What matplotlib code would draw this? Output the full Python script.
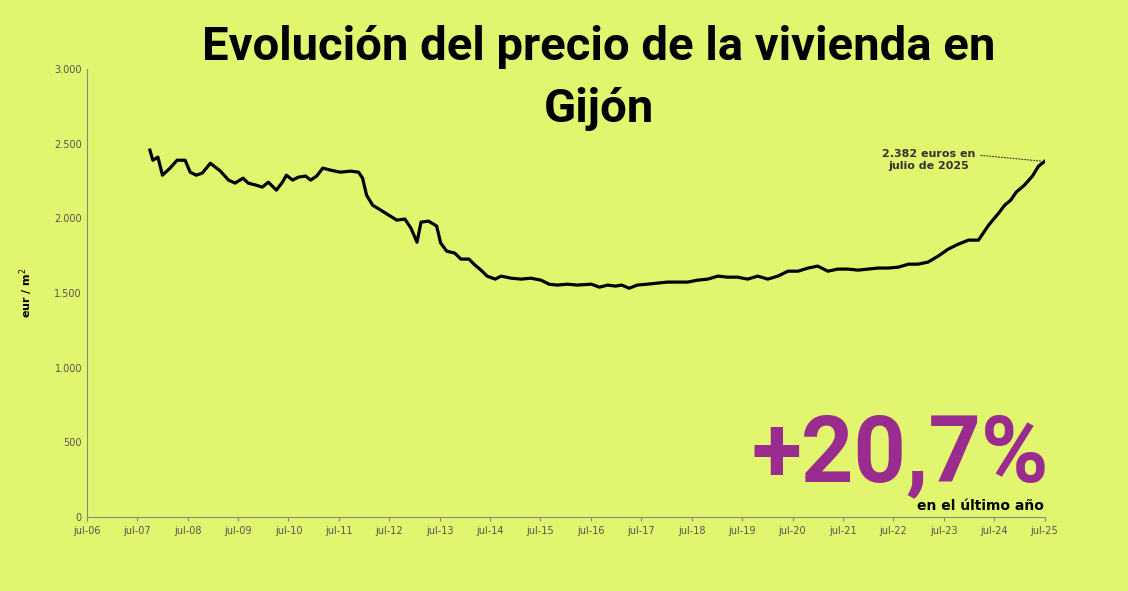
import matplotlib
matplotlib.use("Agg")
import matplotlib.pyplot as plt
from matplotlib.ticker import FuncFormatter

years = [2007.75,2007.81,2007.91,2008.0,2008.15,2008.29,2008.45,2008.55,2008.67,2008.79,2008.95,
 2009.15,2009.31,2009.44,2009.60,2009.70,2009.86,2009.98,2010.10,2010.26,2010.38,2010.46,2010.58,
 2010.70,2010.84,2010.94,2011.06,2011.18,2011.33,2011.53,2011.73,2011.89,2011.97,2012.05,2012.17,
 2012.33,2012.49,2012.65,2012.81,2012.93,2013.05,2013.13,2013.28,2013.44,2013.52,2013.64,2013.80,
 2013.92,2014.08,2014.20,2014.32,2014.44,2014.60,2014.72,2014.92,2015.12,2015.31,2015.51,2015.67,
 2015.83,2016.03,2016.23,2016.51,2016.67,2016.83,2016.99,2017.11,2017.26,2017.42,2017.62,2017.82,
 2018.02,2018.22,2018.42,2018.62,2018.82,2019.02,2019.21,2019.41,2019.61,2019.81,2020.01,2020.21,
 2020.41,2020.61,2020.81,2021.00,2021.20,2021.40,2021.60,2021.80,2022.00,2022.20,2022.40,2022.60,
 2022.80,2022.99,2023.19,2023.39,2023.59,2023.79,2023.99,2024.19,2024.39,2024.59,2024.71,2024.83,
 2024.94,2025.10,2025.26,2025.38,2025.50]
prices = [2458,2390,2411,2290,2337,2390,2390,2310,2290,2304,2370,
 2317,2257,2237,2270,2237,2223,2210,2243,2190,2243,2290,2257,
 2277,2284,2257,2284,2337,2324,2310,2317,2310,2270,2156,2089,
 2056,2022,1989,1996,1935,1841,1976,1982,1949,1835,1781,1768,
 1728,1728,1688,1654,1614,1594,1614,1600,1594,1600,1587,1560,
 1554,1560,1554,1560,1540,1554,1547,1554,1533,1554,1560,1567,
 1574,1574,1574,1587,1594,1614,1607,1607,1594,1614,1594,1614,
 1647,1647,1668,1681,1647,1661,1661,1654,1661,1668,1668,1674,
 1694,1694,1708,1748,1795,1828,1855,1855,1955,2036,2089,2123,
 2177,2223,2284,2350,2382]
tick_years = list(range(2006, 2026))
tick_labels = [f"jul-{y % 100:02d}" for y in tick_years]

narrow = ["Liberation Sans Narrow", "Roboto", "DejaVu Sans"]
bg = "#E2F56E"
fig = plt.figure(figsize=(11.28, 5.91), dpi=100, facecolor=bg)
ax = fig.add_axes([0.077, 0.125, 0.849, 0.758], facecolor=bg)
ax.plot(years, prices, color="black", lw=2.3, solid_joinstyle="round")
ax.set_xlim(2006.5, 2025.5)
ax.set_ylim(0, 3000)
ax.set_xticks([y + 0.5 for y in tick_years])
ax.set_xticklabels(tick_labels, fontsize=7, color="#555555")
ax.set_yticks(range(0, 3001, 500))
ax.yaxis.set_major_formatter(FuncFormatter(lambda v, p: f"{int(v):,}".replace(",", ".")))
ax.tick_params(axis="y", labelsize=7, colors="#555555", length=0)
ax.tick_params(axis="x", length=3, color="#888888")
for s in ["top", "right"]:
    ax.spines[s].set_visible(False)
ax.spines["left"].set_color("#888888")
ax.spines["bottom"].set_color("#888888")
ax.set_ylabel("eur / m$^2$", fontsize=8, fontweight="bold", labelpad=14)

fig.text(0.531, 0.92, "Evolución del precio de la vivienda en", ha="center", va="center",
         fontsize=34, fontweight="bold", family=narrow)
fig.text(0.531, 0.815, "Gijón", ha="center", va="center", fontsize=34, fontweight="bold", family=narrow)

ax.annotate("2.382 euros en\njulio de 2025", xy=(years[-1], prices[-1]), xytext=(2023.2, 2390),
            ha="center", va="center", multialignment="center", fontsize=8, fontweight="bold",
            color="#333333",
            arrowprops=dict(arrowstyle="-", linestyle=":", color="#333333", lw=0.8,
                            relpos=(1.0, 0.75)))
fig.text(0.93, 0.185, "+20,7%", ha="right", va="baseline", fontsize=66, fontweight="bold",
         color="#9B2C8F", family=narrow)
fig.text(0.925, 0.137, "en el último año", ha="right", va="baseline", fontsize=10, fontweight="bold")
fig.savefig("out.png", dpi=100, facecolor=bg)
